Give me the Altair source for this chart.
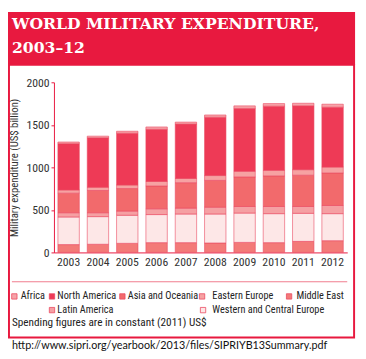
import altair as alt
import pandas as pd

# ---------------- data (US$ billion, constant 2011) ----------------
years = ["2003", "2004", "2005", "2006", "2007", "2008", "2009", "2010", "2011", "2012"]

middle_east = [92, 96, 107, 115, 115, 111, 118, 115, 130, 138]
western_central_europe = [325, 325, 330, 330, 337, 341, 345, 341, 330, 318]
latin_america = [50, 46, 50, 68, 69, 80, 77, 84, 80, 96]
asia_oceania = [230, 261, 264, 268, 299, 315, 348, 360, 368, 382]
eastern_europe = [38, 38, 42, 54, 50, 57, 66, 65, 65, 69]
north_america = [544, 582, 609, 613, 639, 686, 739, 755, 751, 705]
africa = [19, 19, 23, 27, 23, 26, 30, 30, 30, 35]

# stacking order, bottom to top
stack_regions = ["Middle East", "Western and Central Europe", "Latin America",
                 "Asia and Oceania", "Eastern Europe", "North America", "Africa"]
stack_values = [middle_east, western_central_europe, latin_america,
                asia_oceania, eastern_europe, north_america, africa]

legend_regions = ["Africa", "North America", "Asia and Oceania", "Eastern Europe",
                  "Middle East", "Latin America", "Western and Central Europe"]

region_colors = {
    "Africa": "#f6a3a8",
    "North America": "#ee3a56",
    "Asia and Oceania": "#f26a6c",
    "Eastern Europe": "#f6a2a2",
    "Middle East": "#f37a78",
    "Latin America": "#f5a0a3",
    "Western and Central Europe": "#fde7e7",
}

title_line1 = "WORLD MILITARY EXPENDITURE,"
title_line2 = "2003–12"
y_title = "Military expenditure (US$ billion)"
footnote = "Spending figures are in constant (2011) US$"
source_url = "http://www.sipri.org/yearbook/2013/files/SIPRIYB13Summary.pdf"

# ---------------- layout (pixels relative to plot origin) ----------------
RED = "#e8193f"
PINK = "#f07a8c"
FONT = "Liberation Sans Narrow, Arial Narrow, Roboto Condensed, Liberation Sans"

# legend layout: swatch x, text x, y
legend_layout = {
    "Africa": (-40.5, -34, 219),
    "North America": (-2, 3.5, 219),
    "Asia and Oceania": (70, 75.5, 219),
    "Eastern Europe": (151.5, 162, 219),
    "Middle East": (240.5, 248, 219),
    "Latin America": (-2, 3.5, 233),
    "Western and Central Europe": (152.5, 162, 233),
}

rows = []
for region, vals in zip(stack_regions, stack_values):
    for yr, v in zip(years, vals):
        rows.append({"year": yr, "region": region, "value": v,
                     "rank": stack_regions.index(region)})
df = pd.DataFrame(rows)

leg_df = pd.DataFrame({
    "region": legend_regions,
    "sx": [legend_layout[r][0] for r in legend_regions],
    "tx": [legend_layout[r][1] for r in legend_regions],
    "ly": [legend_layout[r][2] for r in legend_regions],
})

color_scale = alt.Scale(domain=list(region_colors.keys()),
                        range=list(region_colors.values()))

one = alt.Data(values=[{}])

banner = alt.Chart(one).mark_rect(color=RED).encode(
    x=alt.value(-47), x2=alt.value(308), y=alt.value(-72), y2=alt.value(-18))

box = alt.Chart(one).mark_rect(fill=None, stroke=RED, strokeWidth=2).encode(
    x=alt.value(-46), x2=alt.value(307), y=alt.value(-18), y2=alt.value(261))

sep = alt.Chart(one).mark_rule(color=PINK, strokeWidth=1).encode(
    x=alt.value(-43), x2=alt.value(300), y=alt.value(204))

t1 = alt.Chart(one).mark_text(
    text=title_line1, font="DejaVu Serif", fontWeight="bold", fontSize=16,
    color="white", align="left", baseline="middle").encode(
    x=alt.value(-43), y=alt.value(-60))
t2 = alt.Chart(one).mark_text(
    text=title_line2, font="DejaVu Serif", fontWeight="bold", fontSize=16,
    color="white", align="left", baseline="middle").encode(
    x=alt.value(-43), y=alt.value(-35))

bars = alt.Chart(df).mark_bar(stroke="#ea4a62", strokeWidth=0.6).encode(
    x=alt.X("year:O", title=None,
            scale=alt.Scale(paddingInner=0.27, paddingOuter=0.135),
            axis=alt.Axis(labelAngle=0, ticks=False, domainColor=RED,
                          labelPadding=4, labelFont=FONT, labelFontSize=12,
                          labelColor="#333333")),
    y=alt.Y("value:Q", stack="zero", title=y_title,
            scale=alt.Scale(domain=[0, 2000]),
            axis=alt.Axis(values=[0, 500, 1000, 1500, 2000], format="d",
                          grid=False,
                          domainColor=RED, tickColor=RED, tickSize=3,
                          labelPadding=2, labelFont=FONT, labelFontSize=12,
                          labelColor="#333333", titleFont=FONT,
                          titleFontSize=11, titleFontWeight="normal",
                          titleColor="#333333", titlePadding=7)),
    color=alt.Color("region:N", scale=color_scale, legend=None),
    order=alt.Order("rank:Q", sort="ascending"),
)

leg_sw = alt.Chart(leg_df).mark_square(size=30, stroke="#ea4a62",
                                       strokeWidth=0.8, opacity=1).encode(
    x=alt.X("sx:Q", scale=None, axis=None),
    y=alt.Y("ly:Q", scale=None, axis=None),
    color=alt.Color("region:N", scale=color_scale, legend=None),
)
leg_tx = alt.Chart(leg_df).mark_text(align="left", baseline="middle",
                                     font=FONT, fontSize=10.5,
                                     color="#222222").encode(
    x=alt.X("tx:Q", scale=None, axis=None),
    y=alt.Y("ly:Q", scale=None, axis=None),
    text="region:N",
)

foot = alt.Chart(one).mark_text(text=footnote, align="left", baseline="middle",
                                font=FONT, fontSize=11.5, color="#222222").encode(
    x=alt.value(-43), y=alt.value(246))
url = alt.Chart(one).mark_text(text=source_url, align="left", baseline="middle",
                               font="Lato", fontSize=11, color="#111111").encode(
    x=alt.value(-43), y=alt.value(270))

chart = alt.layer(banner, box, sep, t1, t2, bars, leg_sw, leg_tx, foot, url).resolve_scale(
    x="independent", y="independent"
).properties(
    width=300, height=174,
    autosize=alt.AutoSizeParams(type="none"),
    padding={"left": 47, "top": 72, "right": 11, "bottom": 105},
    background="white",
).configure_view(stroke=None)

chart.save("out.html", embed_options={"renderer": "svg", "actions": False})
